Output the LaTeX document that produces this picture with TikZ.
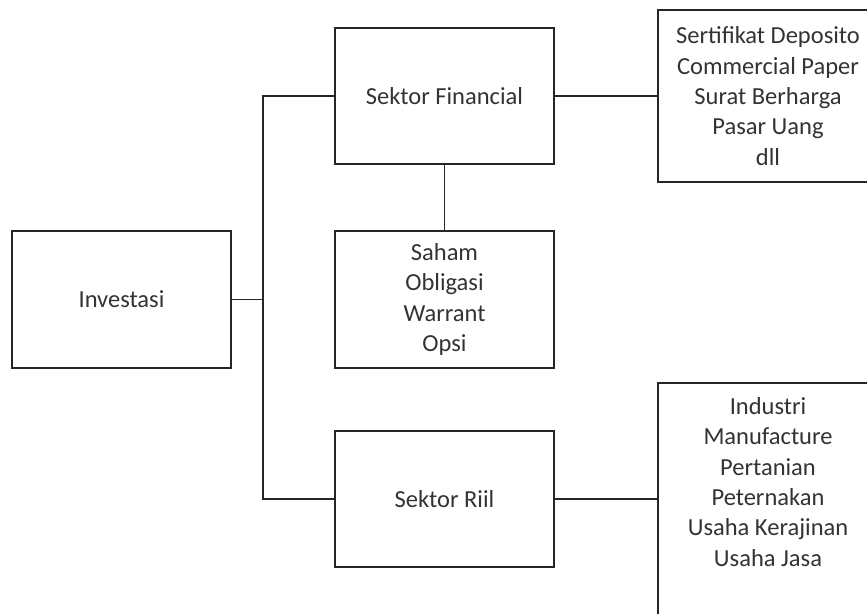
\documentclass[tikz,border=0pt]{standalone}
\usepackage{fontspec}
\setmainfont{Carlito}
\definecolor{linec}{HTML}{262626}
\definecolor{textc}{HTML}{333333}
\begin{document}
\begin{tikzpicture}[x=1pt,y=-1pt,
  box/.style={draw=linec, line width=1.9pt, rectangle, inner sep=0pt, text=textc, align=center,
    font=\fontsize{24.5}{30.4}\selectfont},
  conn/.style={draw=linec, line width=1.9pt},
  lbl/.style={text=textc, align=center, inner sep=0pt, font=\fontsize{24.5}{30.4}\selectfont}]
\useasboundingbox (0,0) rectangle (867,613);
\fill[white] (0,0) rectangle (867,613);
\clip (0,0) rectangle (867,613);
\node[box, minimum width=219pt, minimum height=137pt] (inv) at (121.5,299.5) {Investasi};
\node[box, minimum width=219pt, minimum height=136pt] (fin) at (444.5,96) {Sektor Financial};
\node[box, minimum width=219pt, minimum height=137pt] (sah) at (444.5,299.5) {Saham\\Obligasi\\Warrant\\Opsi};
\node[box, minimum width=219pt, minimum height=136pt] (rii) at (444.5,499) {Sektor Riil};
\node[box, minimum width=220pt, minimum height=172pt] (ser) at (768,96) {Sertifikat Deposito\\Commercial Paper\\Surat Berharga\\Pasar Uang\\dll};
\node[box, minimum width=220pt, minimum height=270pt, anchor=north] (ind) at (768,382) {};
\node[lbl, anchor=north] (indtext) at (768,397) {Industri\\Manufacture\\Pertanian\\Peternakan\\Usaha Kerajinan\\Usaha Jasa};
\coordinate (j) at (263,299.5);
\draw[conn] (inv.east) -- (j);
\draw[conn] (fin.west) -| (j) |- (rii.west);
\draw[conn] (fin.south) -- (sah.north);
\draw[conn] (fin.east) -- (ser.west);
\draw[conn] (rii.east) -- (rii.east -| ind.west);
\end{tikzpicture}
\end{document}
